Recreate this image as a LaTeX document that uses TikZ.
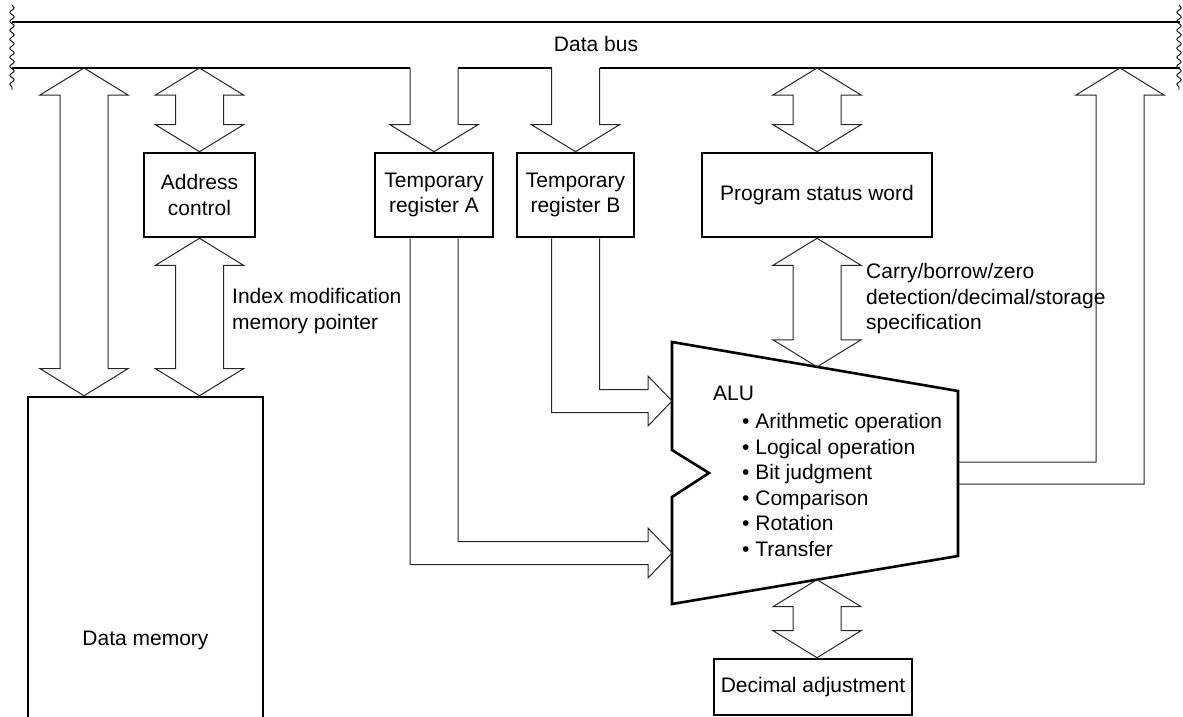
\documentclass[tikz,border=0pt]{standalone}
\usepackage{fontspec}
\setmainfont{Liberation Sans}
\usetikzlibrary{%
  positioning,
  calc,
  decorations.pathmorphing,
}

\begin{document}
\begin{tikzpicture}[%
           x=1pt, y=-1pt,
           font=\fontsize{21}{25.5}\selectfont,
           unit/.style={
             % The shape:
             rectangle,
             % The border:
             line width=2.6pt,
             draw=black,
             % The text:
             align=center,
             inner sep=0pt,
           },
           note/.style={
             anchor=west,
             align=left,
             inner sep=0pt,
           },
           bus/.style={
             line width=1.3pt,
           },
           fat/.style={
             % thin outline of a wide arrow
             line width=1pt,
             draw=black!85,
             line join=miter,
           },
           cut/.style={
             decorate,
             decoration={snake, segment length=9pt, amplitude=2.2pt},
             line width=0.9pt,
           },
         ]
         \useasboundingbox (0,0) rectangle (1183,717);

         % The blocks:
         \node[unit, minimum width=111pt, minimum height=84pt] (addr)  at (199.5,195) {Address\\control};
         \node[unit, minimum width=118pt, minimum height=84pt] (tempA) at (434,195)   {Temporary\\register A};
         \node[unit, minimum width=117pt, minimum height=84pt] (tempB) at (575.5,195) {Temporary\\register B};
         \node[unit, minimum width=230pt, minimum height=84pt] (psw)   at (817,195)   {Program status word};
         \node[unit, minimum width=235pt, minimum height=486pt] (mem)  at (145.5,640) {Data memory};
         \node[unit, minimum width=198pt, minimum height=56pt] (dec)   at (813,687)   {Decimal adjustment};

         % The ALU outline:
         \coordinate (alu-tl) at (672,342);
         \coordinate (alu-tr) at (958,391);
         \coordinate (alu-br) at (958,556);
         \coordinate (alu-bl) at (672,604);
         \coordinate (alu-nt) at (672,450);
         \coordinate (alu-np) at (709,473);
         \coordinate (alu-nb) at (672,497);
         \draw[line width=2.6pt, line join=miter]
           (alu-tl) -- (alu-tr) -- (alu-br) -- (alu-bl)
           -- (alu-nb) -- (alu-np) -- (alu-nt) -- cycle;
         \node[note] (alu) at (713,393) {ALU};
         \node[note] (ops) at (742,485) {\textbullet\ Arithmetic operation\\
           \textbullet\ Logical operation\\
           \textbullet\ Bit judgment\\
           \textbullet\ Comparison\\
           \textbullet\ Rotation\\
           \textbullet\ Transfer};

         % The bus:
         \coordinate (bus-low) at (12,68);
         \coordinate (bus-end) at (1180,68);
         \node (bus-label) at (596,44) {Data bus};
         \draw[bus] (12,22) -- (1180,22);
         \draw[bus] (bus-low) -- ($(tempA.north |- bus-low)+(-24,0)$);
         \draw[bus] ($(tempA.north |- bus-low)+(24,0)$) -- ($(tempB.north |- bus-low)+(-24,0)$);
         \draw[bus] ($(tempB.north |- bus-low)+(24,0)$) -- (bus-end);
         \draw[cut] (12,5) -- (12,90);
         \draw[cut] (1179,5) -- (1179,90);

         % Points where the wide arrows end:
         \coordinate (mem-top)  at (84,68);
         \coordinate (mem-in)   at (mem-top |- mem.north);
         \coordinate (addr-top) at (addr.north |- bus-low);
         \coordinate (addr-in)  at (addr.south |- mem.north);
         \coordinate (psw-top)  at (psw.north |- bus-low);
         \coordinate (alu-top)  at ($(alu-tl)!0.507!(alu-tr)$);
         \coordinate (alu-bot)  at ($(alu-bl)!0.507!(alu-br)$);
         \coordinate (dec-in)   at (alu-bot |- dec.north);
         \coordinate (alu-in1)  at (672,401);
         \coordinate (alu-in2)  at (672,553);
         \coordinate (alu-out)  at (958,473);
         \coordinate (out-top)  at (1120,68);

         % Two-way arrows:
         \foreach \from/\to in {mem-top/mem-in, addr-top/addr.north, addr.south/addr-in,
                                psw-top/psw.north, psw.south/alu-top, alu-bot/dec-in}
           \draw[fat] (\from) -- ($(\from)+(44,27)$) -- ($(\from)+(24,27)$)
             -- ($(\to)+(24,-27)$) -- ($(\to)+(44,-27)$) -- (\to)
             -- ($(\to)+(-44,-27)$) -- ($(\to)+(-24,-27)$)
             -- ($(\from)+(-24,27)$) -- ($(\from)+(-44,27)$) -- cycle;

         % Bus into the registers:
         \foreach \reg in {tempA,tempB}
           \draw[fat] ($(\reg.north |- bus-low)+(-24,0)$) -- ($(\reg.north)+(-24,-27)$)
             -- ($(\reg.north)+(-44,-27)$) -- (\reg.north) -- ($(\reg.north)+(44,-27)$)
             -- ($(\reg.north)+(24,-27)$) -- ($(\reg.north |- bus-low)+(24,0)$);

         % Registers into the ALU:
         \draw[fat] ($(tempB.south)+(-24,0)$) |- ($(alu-in1)+(-24,11.5)$) -- ($(alu-in1)+(-24,25)$)
           -- (alu-in1) -- ($(alu-in1)+(-24,-25)$) -- ($(alu-in1)+(-24,-11.5)$) -| ($(tempB.south)+(24,0)$);
         \draw[fat] ($(tempA.south)+(-24,0)$) |- ($(alu-in2)+(-24,11.5)$) -- ($(alu-in2)+(-24,25)$)
           -- (alu-in2) -- ($(alu-in2)+(-24,-25)$) -- ($(alu-in2)+(-24,-11.5)$) -| ($(tempA.south)+(24,0)$);

         % ALU back onto the bus:
         \draw[fat] ($(alu-out)+(0,-11)$) -| ($(out-top)+(-24,27)$) -- ($(out-top)+(-44,27)$)
           -- (out-top) -- ($(out-top)+(44,27)$) -- ($(out-top)+(24,27)$) |- ($(alu-out)+(0,11)$);

         % Labels:
         \node[note] (idx)   at (232,311) {Index modification\\memory pointer};
         \node[note] (flags) at (866,299) {Carry/borrow/zero\\detection/decimal/storage\\specification};

     \end{tikzpicture}
\end{document}
